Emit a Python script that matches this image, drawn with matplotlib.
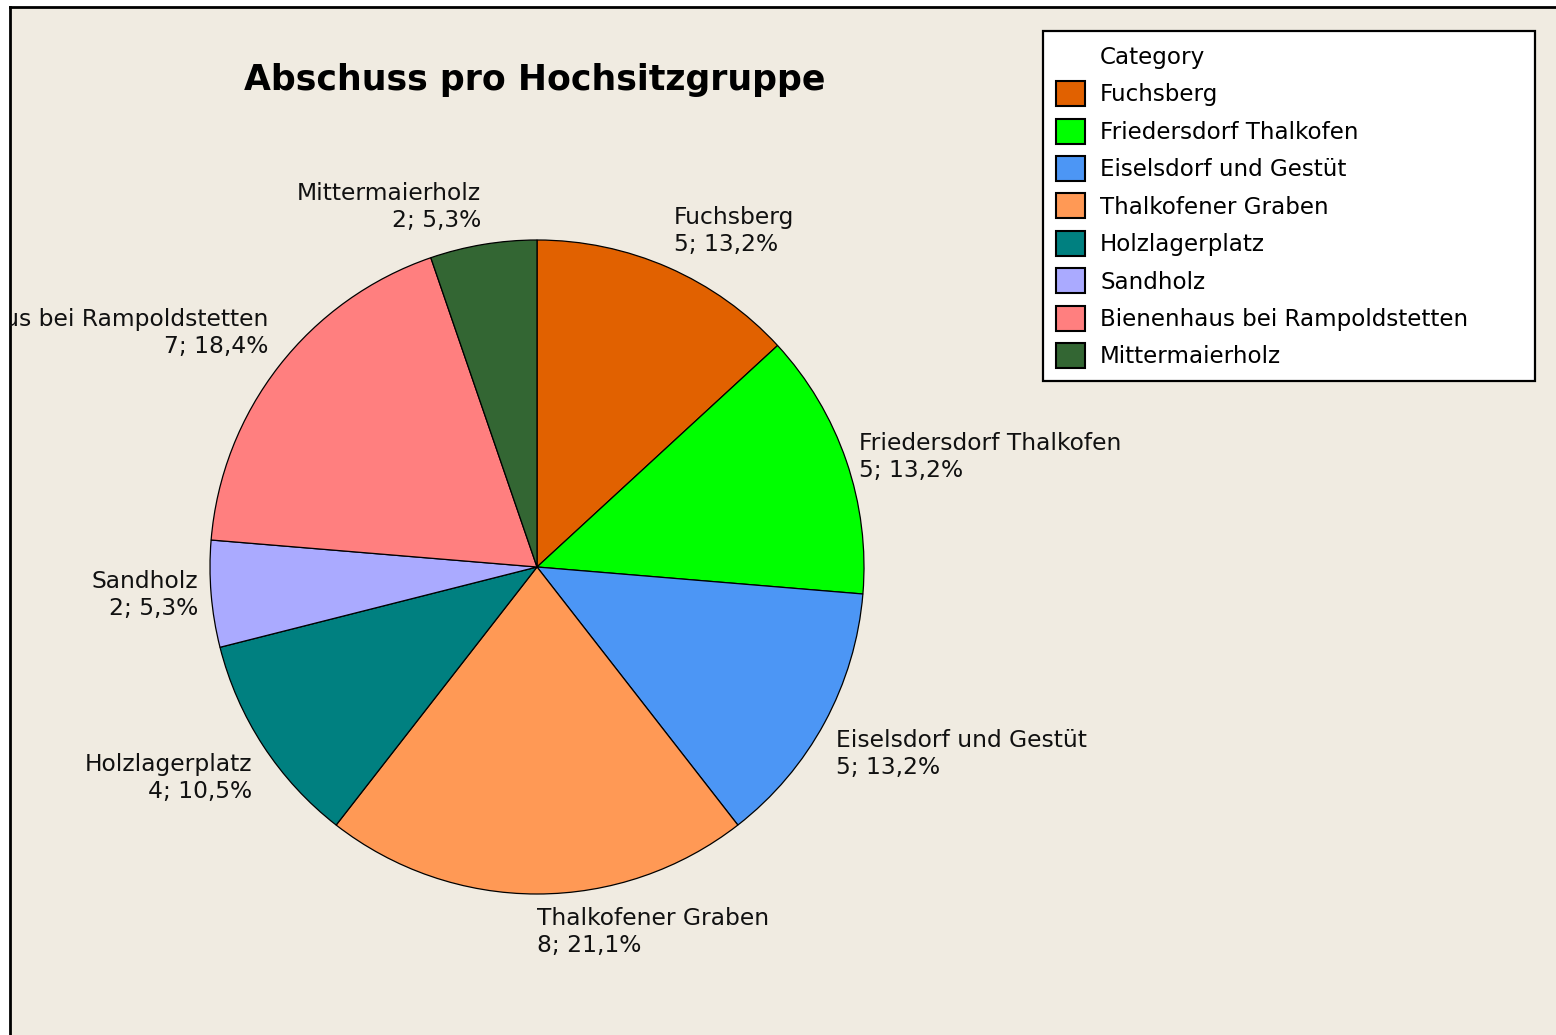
import matplotlib.pyplot as plt
from matplotlib.patches import Patch
import numpy as np

# Abschuss pro Hochsitzgruppe
categories = ["Fuchsberg", "Friedersdorf Thalkofen", "Eiselsdorf und Gestüt",
              "Thalkofener Graben", "Holzlagerplatz", "Sandholz",
              "Bienenhaus bei Rampoldstetten", "Mittermaierholz"]
counts = [5, 5, 5, 8, 4, 2, 7, 2]
percent_labels = ["13,2%", "13,2%", "13,2%", "21,1%", "10,5%", "5,3%", "18,4%", "5,3%"]
colors = ["#E16100", "#00FF00", "#4C96F5", "#FF9955",
          "#008080", "#AAAAFF", "#FF7F7F", "#336633"]

plt.rcParams['font.family'] = ['DejaVu Sans']

W, H = 1556, 1035
fig = plt.figure(figsize=(W / 100, H / 100), dpi=100, facecolor="white")
# panel in pixel coordinates (y up)
ax = fig.add_axes([10 / W, 0, (W - 10) / W, (H - 7) / H])
ax.set_facecolor("#F0EBE1")

cx, cy, r = 537, H - 567, 327
wedges, _ = ax.pie(counts, colors=colors, startangle=90, counterclock=False,
                   center=(cx, cy), radius=r, frame=True,
                   wedgeprops=dict(edgecolor="black", linewidth=0.9))

ax.set_xlim(10, W)
ax.set_ylim(0, H - 7)
ax.set_aspect("auto")
ax.set_xticks([])
ax.set_yticks([])
for s in ["right", "bottom"]:
    ax.spines[s].set_visible(False)
for s in ["left", "top"]:
    ax.spines[s].set_linewidth(2)
    ax.spines[s].set_color("black")

# slice labels
for w, name, n, p in zip(wedges, categories, counts, percent_labels):
    mid = np.deg2rad((w.theta1 + w.theta2) / 2)
    c, s = np.cos(mid), np.sin(mid)
    x = cx + 1.04 * r * c
    y = cy + 1.04 * r * s
    ha = "left" if c >= -0.01 else "right"
    if abs(s) < 0.35:
        va = "center"
    elif s > 0:
        va = "bottom"
    else:
        va = "top"
    ax.text(x, y, f"{name}\n{n}; {p}", ha=ha, va=va, multialignment=ha,
            fontsize=16.8, color="#111111", linespacing=1.22, clip_on=True)

ax.text(535, H - 80, "Abschuss pro Hochsitzgruppe", ha="center", va="center",
        fontsize=25, fontweight="bold", color="black")

handles = [Patch(facecolor="none", edgecolor="none")]
handles += [Patch(facecolor=c, edgecolor="black", linewidth=1.5) for c in colors]
labels = ["Category"] + categories
leg = fig.legend(handles, labels, loc="upper left",
                 bbox_to_anchor=(1043 / W, 1 - 379 / H, 492 / W, 348 / H),
                 bbox_transform=fig.transFigure, mode="expand",
                 fontsize=16.6, handlelength=1.29, handleheight=1.29,
                 labelspacing=0.53, handletextpad=0.64, borderpad=0.55,
                 borderaxespad=0, fancybox=False, frameon=True)
leg.get_frame().set_edgecolor("black")
leg.get_frame().set_linewidth(1.6)
leg.get_frame().set_facecolor("white")
leg.get_frame().set_alpha(1)

fig.savefig("out.png", dpi=100, facecolor="white")
